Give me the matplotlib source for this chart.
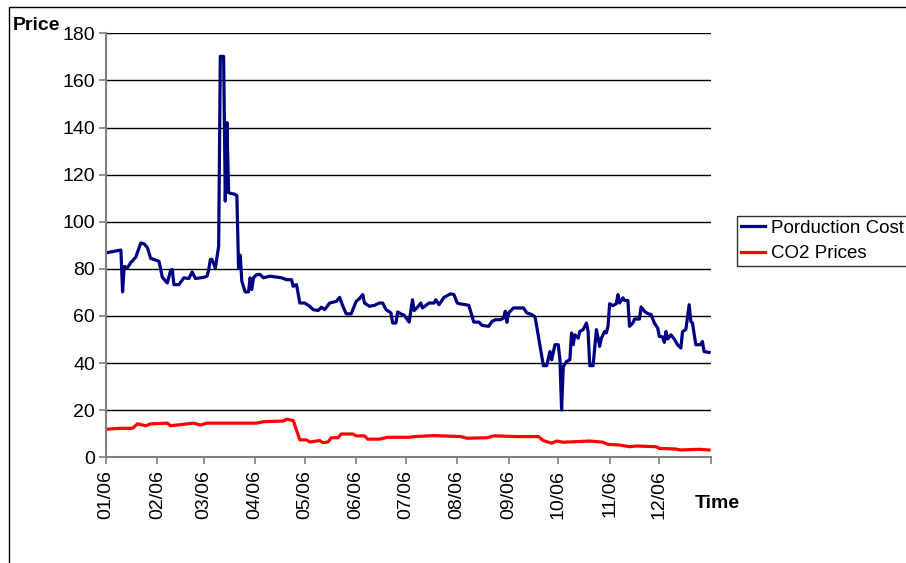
import matplotlib
matplotlib.use("Agg")
import matplotlib.pyplot as plt
from matplotlib.patches import Rectangle
import pandas as pd

plt.rcParams['font.family'] = ['Liberation Sans', 'DejaVu Sans']

# day of year 2006 (0 = 1 Jan) and value
cost_day = [0, 8, 9, 10, 11, 13, 15, 18, 21, 23, 25, 27, 29, 32, 34, 37, 39, 40, 41, 44,
            47, 50, 52, 54, 59, 61, 62, 63, 64, 66, 68, 69, 71, 72, 73, 74, 78, 79, 80, 81,
            82, 84, 86, 87, 88, 89, 91, 93, 95, 99, 106, 109, 112, 113, 115, 117, 120, 123, 125, 128,
            130, 132, 135, 139, 141, 143, 145, 148, 151, 153, 155, 156, 159, 162, 165, 167, 169, 172, 173, 175,
            176, 178, 180, 183, 185, 186, 188, 190, 191, 195, 198, 199, 201, 204, 208, 210, 212, 214, 217, 219,
            222, 225, 227, 231, 233, 235, 238, 240, 241, 242, 243, 246, 252, 254, 257, 259, 261, 264, 266, 268,
            269, 271, 273, 274, 275, 276, 278, 280, 281, 282, 283, 285, 286, 288, 290, 291, 292, 294, 296, 298,
            299, 301, 302, 303, 304, 306, 308, 309, 310, 312, 313, 315, 316, 318, 319, 322, 323, 325, 327, 329,
            331, 333, 334, 336, 337, 338, 339, 341, 343, 345, 347, 348, 350, 352, 353, 354, 356, 359, 360, 361,
            364]
cost_val = [86.8, 87.9, 88, 70.2, 81, 80.5, 82.7, 85, 91, 90.6, 89, 84.4, 84, 83.2, 76.4, 74, 79.3, 79.7, 73.3, 73.3,
            76.2, 75.9, 78.7, 75.9, 76.4, 76.9, 79.7, 84, 84, 80.4, 89.6, 170.2, 170.2, 108.8, 142.1, 112.3, 111.6, 111, 80.4, 85.8,
            74.7, 70.2, 70.2, 76.2, 71.2, 76.2, 77.6, 77.6, 76.2, 76.9, 76.2, 75.4, 75.4, 72.6, 73.3, 65.5, 65.5, 64.1, 62.7, 62.3,
            63.7, 62.7, 65.5, 66.2, 67.9, 64.1, 60.9, 60.9, 66.2, 67.4, 69.1, 65.5, 64.1, 64.5, 65.5, 65.5, 62.7, 61.3, 57, 57,
            61.7, 60.9, 60.3, 57.4, 66.9, 62.3, 63.7, 65.5, 63.4, 65.5, 65.5, 66.9, 64.8, 67.9, 69.4, 69.1, 65.5, 65.1, 64.8, 64.5,
            57.4, 57.4, 56, 55.6, 57.7, 58.4, 58.4, 59.1, 62, 57.3, 61.3, 63.4, 63.4, 61.3, 60.6, 59.6, 51.3, 38.9, 38.9, 44.9,
            41.4, 47.8, 47.8, 41.4, 20.1, 38.5, 40.7, 41.4, 52.8, 47.8, 52, 50.6, 53.4, 54.2, 57, 53.4, 38.9, 38.9, 54.2, 47.1,
            50.6, 53.4, 52.8, 55.6, 65.2, 64.4, 65.2, 69.1, 65.5, 67.7, 66.6, 66.6, 55.6, 57, 58.7, 58.7, 63.8, 62, 61, 60.6,
            57, 54.9, 51.3, 51.1, 48.8, 53.4, 50.2, 52, 50.2, 47.8, 46.4, 53.4, 54.2, 64.8, 57.7, 57, 47.8, 47.8, 49.2, 44.9,
            44.5]

co2_day = [0, 8, 16, 19, 24, 27, 37, 39, 53, 57, 61, 91, 95, 107, 109, 113, 117, 121, 123, 129,
           131, 134, 136, 140, 142, 149, 151, 156, 158, 165, 170, 183, 186, 198, 214, 218, 230, 234, 248, 261,
           264, 269, 272, 276, 292, 300, 303, 310, 316, 320, 332, 334, 344, 347, 358, 364]
co2_val = [11.9, 12.3, 12.3, 14.2, 13.4, 14.2, 14.5, 13.4, 14.5, 13.7, 14.5, 14.5, 15.1, 15.4, 16.2, 15.6, 7.4, 7.4, 6.5, 7.1,
           6.2, 6.5, 8.3, 8.3, 9.9, 9.9, 9.1, 9.1, 7.7, 7.7, 8.5, 8.5, 8.8, 9.2, 8.8, 8.1, 8.3, 9.1, 8.8, 8.8,
           7.1, 6.0, 6.9, 6.4, 6.9, 6.4, 5.5, 5.2, 4.5, 4.8, 4.5, 3.8, 3.5, 3.1, 3.4, 3.1]

y_ticks = [0, 20, 40, 60, 80, 100, 120, 140, 160, 180]

start = pd.Timestamp('2006-01-01')
end = pd.Timestamp('2007-01-01')
cost_dates = start + pd.to_timedelta(cost_day, unit='D')
co2_dates = start + pd.to_timedelta(co2_day, unit='D')
month_ticks = pd.date_range(start, end, freq='MS')
month_labels = [d.strftime('%m/%y') for d in month_ticks[:-1]] + ['']

fig = plt.figure(figsize=(9.06, 5.63), dpi=100)
ax = fig.add_axes([106 / 906, 1 - 457.3 / 563, (710.7 - 106) / 906, (457.3 - 33.3) / 563])

# outer chart border (cut off at right and bottom like the original)
fig.patches.append(Rectangle((9 / 906, -0.2), 1.5, 1.2 - 7 / 563, transform=fig.transFigure,
                             fill=False, edgecolor='black', linewidth=1.0))

l1, = ax.plot(cost_dates, cost_val, color='#000080', linewidth=2.3, label='Porduction Cost')
l2, = ax.plot(co2_dates, co2_val, color='#ff0000', linewidth=2.3, label='CO2 Prices')

ax.set_ylim(0, 180)
ax.set_yticks(y_ticks)
ax.set_xlim(start, end)
ax.set_xticks(month_ticks)
ax.set_xticklabels(month_labels)
ax.grid(axis='y', color='black', linewidth=1.0)
ax.set_axisbelow(True)

for s in ['top', 'right']:
    ax.spines[s].set_visible(False)
for s in ['left', 'bottom']:
    ax.spines[s].set_color('#808080')
    ax.spines[s].set_linewidth(1.5)

ax.tick_params(axis='x', labelrotation=90, labelsize=14, length=5, color='#808080', width=1.2, pad=4)
ax.tick_params(axis='y', labelsize=14, length=5, color='#808080', width=1.2, pad=3)

fig.text(13 / 906, 1 - 25 / 563, 'Price', fontsize=14, fontweight='bold', va='center', ha='left')
fig.text(695 / 906, 1 - 503 / 563, 'Time', fontsize=14, fontweight='bold', va='center', ha='left')

leg = fig.legend(handles=[l1, l2], loc='upper left', bbox_to_anchor=(737 / 906, 1 - 216 / 563),
                 fontsize=13.5, frameon=True, fancybox=False, edgecolor='black', borderpad=0.2,
                 handlelength=1.3, handletextpad=0.3, labelspacing=0.45, borderaxespad=0)
leg.get_frame().set_linewidth(1.0)

fig.savefig('out.png', dpi=100)
